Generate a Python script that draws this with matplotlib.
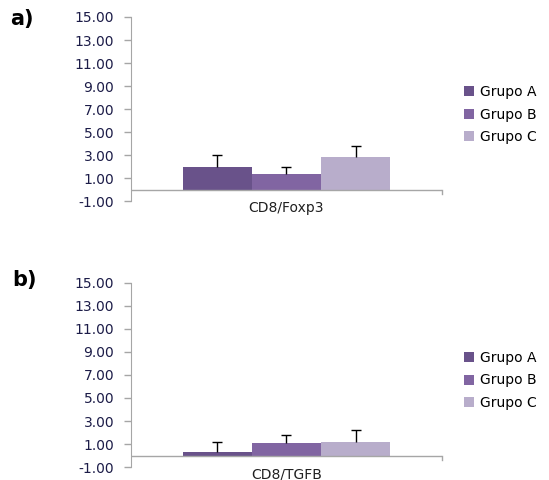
import matplotlib.pyplot as plt
import numpy as np

plt.rcParams["font.family"] = ["DejaVu Sans"]

# data
groups = ["Grupo A", "Grupo B", "Grupo C"]
colors = ["#69528a", "#8165a2", "#b8adcb"]

foxp3_means = [2.0, 1.4, 2.8]
foxp3_errs = [1.0, 0.55, 1.0]

tgfb_means = [0.3, 1.1, 1.15]
tgfb_errs = [0.9, 0.65, 1.05]

yticks = np.arange(-1, 16, 2)
tick_color = "#1c1c48"
axis_color = "#a6a6a6"


def draw_panel(ax, means, errs, category):
    width = 2.0 / 9.0
    offsets = [-width, 0, width]
    for i, g in enumerate(groups):
        x = 0.5 + offsets[i]
        ax.bar(x, means[i], width, color=colors[i], label=g, zorder=2)
        # plus-only error bar, as in Excel
        top = means[i] + errs[i]
        ax.vlines(x, means[i], top, color="black", lw=1, zorder=4)
        ax.plot([x], [top], marker="_", ms=7, mew=1, color="black", zorder=4)
    ax.set_xlim(0, 1)
    ax.set_ylim(-1, 15)
    ax.set_yticks(yticks)
    ax.set_yticklabels([f"{v:.2f}" for v in yticks], color=tick_color, fontsize=10)
    ax.tick_params(axis="y", length=5, color=axis_color, width=1, pad=7)
    ax.set_xticks([])
    for s in ["top", "right", "bottom"]:
        ax.spines[s].set_visible(False)
    ax.spines["left"].set_color(axis_color)
    ax.axhline(0, color=axis_color, lw=1, zorder=3)
    ax.plot([1, 1], [0, -0.4], color=axis_color, lw=1, clip_on=False)
    ax.text(0.5, 0.0, category, transform=ax.transAxes, ha="center",
            va="top", fontsize=10, color="#202020")
    ax.legend(loc="center left", bbox_to_anchor=(1.03, 0.47), frameon=False,
              fontsize=10, handlelength=0.75, handleheight=0.75,
              handletextpad=0.45, labelspacing=0.6)


fig = plt.figure(figsize=(5.49, 4.8), dpi=100)
ax1 = fig.add_axes([0.2386, 0.581, 0.5664, 0.3836])
ax2 = fig.add_axes([0.2386, 0.027, 0.5664, 0.3836])

draw_panel(ax1, foxp3_means, foxp3_errs, "CD8/Foxp3")
draw_panel(ax2, tgfb_means, tgfb_errs, "CD8/TGFB")

fig.text(10 / 549, 1 - 19.5 / 480, "a)", ha="left", va="center",
         fontsize=15, fontweight="bold")
fig.text(12 / 549, 1 - 280 / 480, "b)", ha="left", va="center",
         fontsize=15, fontweight="bold")

fig.savefig("out.png", dpi=100)
